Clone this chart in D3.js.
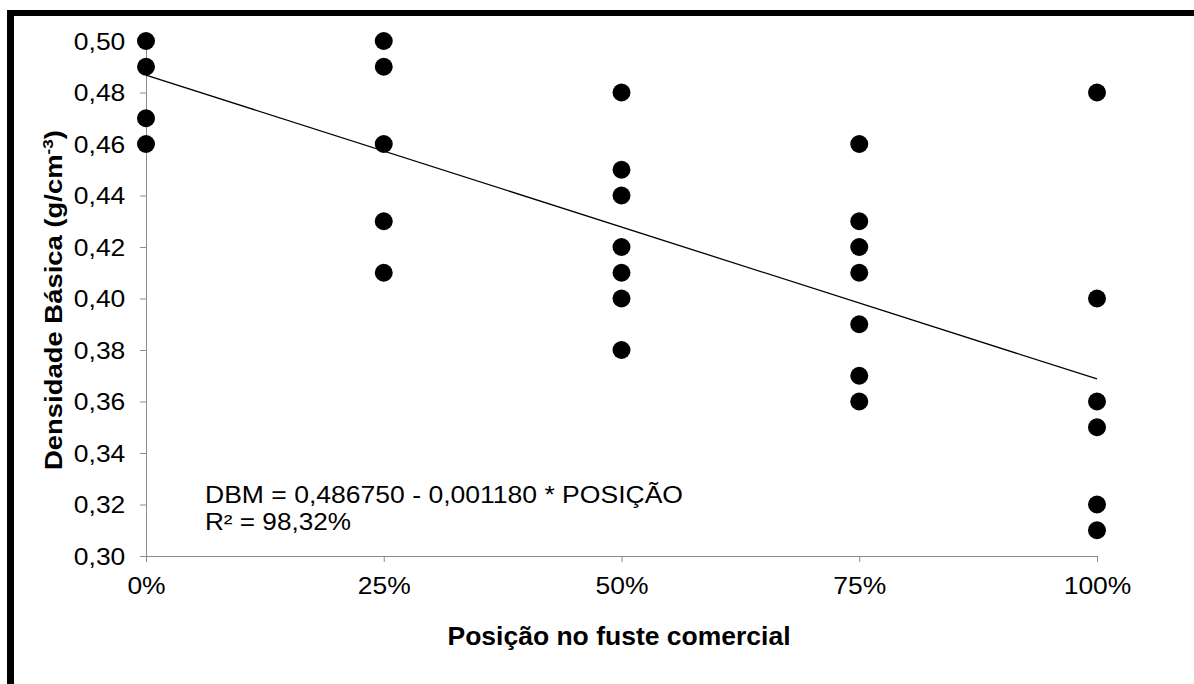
<!DOCTYPE html>
<html>
<head>
<meta charset="utf-8">
<script src="https://cdn.jsdelivr.net/npm/d3@7"></script>
<style>
    body { margin: 0; background: #fff; }
    svg { display: block; }
    text { font-family: "Liberation Sans", Arial, sans-serif; fill: #000; }
</style>
</head>
<body>
<div class="chart"></div>
<script>
// posição no fuste (%) e densidade básica observada
var positions = [0, 25, 50, 75, 100];
var densityAt0 = [0.50, 0.49, 0.47, 0.46];
var densityAt25 = [0.50, 0.49, 0.46, 0.43, 0.41];
var densityAt50 = [0.48, 0.45, 0.44, 0.42, 0.41, 0.40, 0.38];
var densityAt75 = [0.46, 0.43, 0.42, 0.41, 0.39, 0.37, 0.36];
var densityAt100 = [0.48, 0.40, 0.36, 0.35, 0.32, 0.31];
var yTicks = [0.30, 0.32, 0.34, 0.36, 0.38, 0.40, 0.42, 0.44, 0.46, 0.48, 0.50];
var xTickLabels = ['0%', '25%', '50%', '75%', '100%'];

// regressão ajustada
var intercept = 0.486750;
var slope = -0.001180;
var equationText = 'DBM = 0,486750 - 0,001180 * POSIÇÃO';
var r2Text = 'R² = 98,32%';

var width = 1194, height = 684;
var axisColor = '#8a8a8a';
var stretch = 'scale(1.15,1)';

var svg = d3.select('.chart').append('svg')
    .attr('width', width)
    .attr('height', height);

svg.append('rect')
    .attr('width', width).attr('height', height)
    .attr('fill', '#fff');

var defs = svg.append('defs');
defs.append('filter').attr('id', 'soft')
    .append('feGaussianBlur').attr('stdDeviation', 0.7);

// moldura (só topo e esquerda aparecem no recorte)
svg.append('rect').attr('x', 7).attr('y', 10).attr('width', width - 7).attr('height', 6).attr('fill', '#000');
svg.append('rect').attr('x', 7).attr('y', 10).attr('width', 7).attr('height', height - 10).attr('fill', '#000');

var x = d3.scaleLinear().domain([0, 100]).range([146, 1097]);
var y = d3.scaleLinear().domain([0.30, 0.50]).range([556, 41]);

var points = [];
[densityAt0, densityAt25, densityAt50, densityAt75, densityAt100].forEach(function(list, i) {
    list.forEach(function(v) { points.push({pos: positions[i], val: v}); });
});

// eixo y
var yAxis = svg.append('g')
    .attr('transform', 'translate(' + x(0) + ',0)')
    .call(d3.axisLeft(y).tickValues(yTicks).tickSize(6).tickPadding(12)
        .tickFormat(function(d) { return d3.format('.2f')(d).replace('.', ','); }));
yAxis.select('.domain').attr('stroke', axisColor);
yAxis.selectAll('.tick line').attr('stroke', axisColor);
yAxis.selectAll('.tick text')
    .attr('font-size', 23)
    .attr('transform', stretch)
    .attr('dy', '0.36em');

// eixo x
var xAxis = svg.append('g')
    .attr('transform', 'translate(0,' + y(0.30) + ')')
    .call(d3.axisBottom(x).tickValues(positions).tickSize(6).tickPadding(16)
        .tickFormat(function(d, i) { return xTickLabels[i]; }));
xAxis.select('.domain').attr('stroke', axisColor);
xAxis.selectAll('.tick line').attr('stroke', axisColor);
xAxis.selectAll('.tick text')
    .attr('font-size', 23)
    .attr('transform', stretch);

// linha de tendência
svg.append('line')
    .attr('x1', x(0)).attr('y1', y(intercept))
    .attr('x2', x(100)).attr('y2', y(intercept + slope * 100))
    .attr('stroke', '#000')
    .attr('stroke-width', 1.3);

// pontos
svg.append('g').selectAll('circle')
    .data(points)
    .enter().append('circle')
    .attr('cx', function(d) { return x(d.pos); })
    .attr('cy', function(d) { return y(d.val); })
    .attr('r', 9)
    .attr('fill', '#000')
    .attr('filter', 'url(#soft)');

// equação
svg.append('text')
    .attr('x', 205).attr('y', 503)
    .attr('font-size', 23)
    .attr('textLength', 478).attr('lengthAdjust', 'spacingAndGlyphs')
    .text(equationText);
svg.append('text')
    .attr('x', 205).attr('y', 530)
    .attr('font-size', 23)
    .attr('textLength', 146).attr('lengthAdjust', 'spacingAndGlyphs')
    .text(r2Text);

// títulos dos eixos
svg.append('text')
    .attr('x', 619).attr('y', 645)
    .attr('text-anchor', 'middle')
    .attr('font-size', 25)
    .attr('font-weight', 'bold')
    .attr('textLength', 343).attr('lengthAdjust', 'spacingAndGlyphs')
    .text('Posição no fuste comercial');

var yTitle = svg.append('text')
    .attr('transform', 'translate(62,300) rotate(-90)')
    .attr('text-anchor', 'middle')
    .attr('font-size', 24)
    .attr('font-weight', 'bold')
    .attr('textLength', 340).attr('lengthAdjust', 'spacingAndGlyphs');
yTitle.append('tspan').text('Densidade Básica (g/cm');
yTitle.append('tspan').attr('font-size', 15).attr('dy', -9).text('-3');
yTitle.append('tspan').attr('dy', 9).text(')');
</script>
</body>
</html>
